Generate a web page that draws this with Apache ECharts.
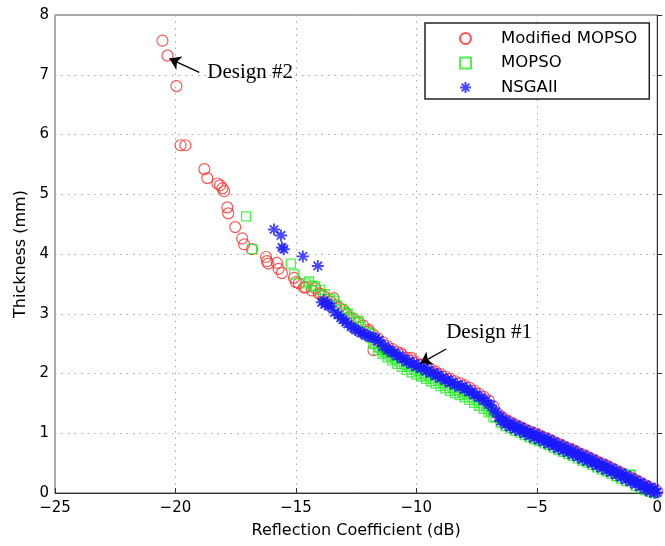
<!DOCTYPE html>
<html>
<head>
<meta charset="utf-8">
<script src="https://cdn.jsdelivr.net/npm/echarts@6/dist/echarts.min.js"></script>
<style>
  html, body { margin: 0; padding: 0; background: #fff; }
  #chart { width: 665px; height: 546px; }
</style>
</head>
<body>
<div id="chart"></div>
<script>
// Pareto fronts: reflection coefficient (dB) vs. absorber thickness (mm)
const seriesNames = ['Modified MOPSO', 'MOPSO', 'NSGAII'];

const modifiedMopso = [
  [-20.54, 7.57], [-20.33, 7.32], [-19.96, 6.81], [-19.79, 5.82], [-19.59, 5.82],
  [-18.80, 5.42], [-18.68, 5.27], [-18.26, 5.18], [-18.15, 5.15], [-18.05, 5.10],
  [-17.98, 5.05], [-17.85, 4.78], [-17.81, 4.68], [-17.52, 4.45], [-17.23, 4.26],
  [-17.15, 4.16], [-16.82, 4.08], [-16.24, 3.95], [-16.20, 3.88], [-16.15, 3.84],
  [-15.79, 3.85], [-15.72, 3.75], [-15.58, 3.68], [-15.08, 3.60], [-15.00, 3.53],
  [-14.88, 3.51], [-14.67, 3.44], [-14.59, 3.44], [-14.34, 3.39], [-14.05, 3.34],
  [-13.97, 3.33], [-13.72, 3.23], [-13.43, 3.26], [-13.35, 3.14], [-13.02, 3.06],
  [-12.81, 2.94], [-12.40, 2.86], [-11.98, 2.73], [-11.78, 2.39], [-11.16, 2.39],
  [-10.66, 2.34], [-10.21, 2.26], [-9.79, 2.14], [-9.21, 2.00], [-8.80, 1.89],
  [-14.2, 3.43], [-13.85, 3.30], [-13.55, 3.20], [-13.2, 3.10], [-12.9, 3.00],
  [-12.6, 2.92], [-12.2, 2.80], [-12.0, 2.70],
  [-11.8, 2.65], [-11.6, 2.59], [-11.4, 2.52], [-11.2, 2.46], [-11.0, 2.41],
  [-10.8, 2.36], [-10.6, 2.31], [-10.4, 2.26], [-10.2, 2.22], [-10.0, 2.18],
  [-9.8, 2.15], [-9.6, 2.11], [-9.4, 2.07], [-9.2, 2.03], [-9.0, 1.99],
  [-8.8, 1.95], [-8.6, 1.91], [-8.4, 1.87], [-8.2, 1.84], [-8.0, 1.80],
  [-7.8, 1.76], [-7.6, 1.71], [-7.4, 1.66], [-7.2, 1.61], [-7.0, 1.55],
  [-6.8, 1.45], [-6.6, 1.32], [-6.4, 1.26], [-6.2, 1.21], [-6.0, 1.17],
  [-5.8, 1.13], [-5.6, 1.09], [-5.4, 1.05], [-5.2, 1.02], [-5.0, 0.99],
  [-4.8, 0.95], [-4.6, 0.92], [-4.4, 0.88], [-4.2, 0.84], [-4.0, 0.81],
  [-3.8, 0.77], [-3.6, 0.74], [-3.4, 0.70], [-3.2, 0.66], [-3.0, 0.63],
  [-2.8, 0.59], [-2.6, 0.55], [-2.4, 0.51], [-2.2, 0.48], [-2.0, 0.44],
  [-1.8, 0.40], [-1.6, 0.36], [-1.4, 0.32], [-1.2, 0.28], [-1.0, 0.24],
  [-0.8, 0.20], [-0.6, 0.15], [-0.4, 0.11], [-0.2, 0.07], [0.0, 0.03]
];

const mopso = [
  [-17.07, 4.63], [-16.82, 4.08], [-15.21, 3.84], [-15.08, 3.66], [-14.59, 3.51],
  [-14.46, 3.54], [-14.34, 3.47], [-14.2, 3.46], [-14.0, 3.40], [-13.8, 3.33],
  [-13.6, 3.25], [-13.43, 3.22], [-13.3, 3.14], [-13.10, 3.08], [-13.0, 3.03],
  [-12.85, 3.00], [-12.7, 2.93], [-12.5, 2.85], [-12.40, 2.88], [-12.3, 2.78],
  [-12.1, 2.70], [-11.90, 2.67], [-11.9, 2.60], [-11.8, 2.50], [-11.57, 2.44],
  [-11.4, 2.40], [-11.28, 2.39], [-11.2, 2.36], [-10.90, 2.30],
  [-11.7, 2.49], [-11.5, 2.43], [-11.3, 2.36], [-11.1, 2.30], [-10.9, 2.25],
  [-10.7, 2.20], [-10.5, 2.15], [-10.3, 2.11], [-10.1, 2.07], [-9.9, 2.04],
  [-9.7, 2.00], [-9.5, 1.96], [-9.3, 1.92], [-9.1, 1.88], [-8.9, 1.84],
  [-8.7, 1.80], [-8.5, 1.76], [-8.3, 1.72], [-8.1, 1.69], [-7.9, 1.65],
  [-7.7, 1.60], [-7.5, 1.55], [-7.3, 1.50], [-7.1, 1.45], [-6.9, 1.37],
  [-6.7, 1.26], [-6.5, 1.18], [-6.3, 1.12], [-6.1, 1.08], [-5.9, 1.04],
  [-5.7, 1.01], [-5.5, 0.97], [-5.3, 0.93], [-5.1, 0.90], [-4.9, 0.87],
  [-4.7, 0.83], [-4.5, 0.80], [-4.3, 0.76], [-4.1, 0.72], [-3.9, 0.69],
  [-3.7, 0.65], [-3.5, 0.62], [-3.3, 0.58], [-3.1, 0.54], [-2.9, 0.51],
  [-2.7, 0.47], [-2.5, 0.43], [-2.3, 0.39], [-2.1, 0.36], [-1.9, 0.32],
  [-1.7, 0.28], [-1.5, 0.24], [-1.3, 0.20], [-1.15, 0.31], [-1.1, 0.30],
  [-0.9, 0.12], [-0.7, 0.08], [-0.5, 0.05], [-0.3, 0.02], [-0.1, 0.00],
  [-11.6, 2.39], [-11.4, 2.33], [-11.2, 2.27], [-11.0, 2.22], [-10.8, 2.16],
  [-10.6, 2.11], [-10.4, 2.06], [-10.2, 2.02], [-10.0, 1.98], [-9.8, 1.95],
  [-9.6, 1.91], [-9.4, 1.87], [-9.2, 1.83], [-9.0, 1.79], [-8.8, 1.75],
  [-8.6, 1.71], [-8.4, 1.67], [-8.2, 1.64], [-8.0, 1.60], [-7.8, 1.56],
  [-7.6, 1.51], [-7.4, 1.46], [-7.2, 1.41], [-7.0, 1.35], [-6.8, 1.27]
];

const nsga2 = [
  [-15.91, 4.41], [-15.62, 4.31], [-15.58, 4.11], [-15.50, 4.08], [-14.71, 3.96],
  [-14.09, 3.80], [-13.93, 3.19], [-13.85, 3.22], [-13.80, 3.16], [-13.70, 3.18],
  [-13.64, 3.13], [-13.55, 3.12], [-13.40, 3.02], [-13.25, 2.98], [-13.14, 2.93],
  [-13.05, 2.90], [-12.93, 2.86], [-12.85, 2.83], [-12.70, 2.78], [-12.60, 2.76],
  [-12.52, 2.73], [-12.40, 2.71], [-12.30, 2.68], [-12.20, 2.67], [-12.11, 2.64],
  [-12.00, 2.63], [-11.90, 2.61], [-11.80, 2.60], [-11.69, 2.59], [-11.60, 2.54],
  [-11.55, 2.56],
  [-11.4, 2.45], [-11.2, 2.39], [-11.0, 2.34], [-10.8, 2.29], [-10.6, 2.24],
  [-10.4, 2.19], [-10.2, 2.15], [-10.0, 2.11], [-9.8, 2.08], [-9.6, 2.04],
  [-9.4, 2.00], [-9.2, 1.96], [-9.0, 1.92], [-8.8, 1.88], [-8.6, 1.84],
  [-8.4, 1.80], [-8.2, 1.77], [-8.0, 1.73], [-7.8, 1.69], [-7.6, 1.64],
  [-7.4, 1.59], [-7.2, 1.54], [-7.0, 1.48], [-6.8, 1.38], [-6.6, 1.27],
  [-6.4, 1.21], [-6.2, 1.16], [-6.0, 1.12], [-5.8, 1.09], [-5.6, 1.05],
  [-5.4, 1.01], [-5.2, 0.98], [-5.0, 0.95], [-4.8, 0.91], [-4.6, 0.88],
  [-4.4, 0.84], [-4.2, 0.80], [-4.0, 0.77], [-3.8, 0.73], [-3.6, 0.70],
  [-3.4, 0.66], [-3.2, 0.62], [-3.0, 0.59], [-2.8, 0.55], [-2.6, 0.51],
  [-2.4, 0.47], [-2.2, 0.44], [-2.0, 0.40], [-1.8, 0.36], [-1.6, 0.32],
  [-1.4, 0.28], [-1.2, 0.24], [-1.0, 0.20], [-0.8, 0.16], [-0.6, 0.12],
  [-0.4, 0.08], [-0.2, 0.05], [0.0, 0.01],
  [-11.3, 2.46], [-11.1, 2.40], [-10.9, 2.35], [-10.7, 2.30], [-10.5, 2.25],
  [-10.3, 2.21], [-10.1, 2.17], [-9.9, 2.14], [-9.7, 2.10], [-9.5, 2.06],
  [-9.3, 2.02], [-9.1, 1.98], [-8.9, 1.94], [-8.7, 1.90], [-8.5, 1.86],
  [-8.3, 1.82], [-8.1, 1.79], [-7.9, 1.75], [-7.7, 1.70], [-7.5, 1.65],
  [-7.3, 1.60], [-7.1, 1.55], [-6.9, 1.47], [-6.7, 1.36], [-6.5, 1.28],
  [-6.3, 1.22], [-6.1, 1.18], [-5.9, 1.14], [-5.7, 1.11], [-5.5, 1.07],
  [-5.3, 1.03], [-5.1, 1.00], [-4.9, 0.97], [-4.7, 0.93], [-4.5, 0.90],
  [-4.3, 0.86], [-4.1, 0.82], [-3.9, 0.79], [-3.7, 0.75], [-3.5, 0.72],
  [-3.3, 0.68], [-3.1, 0.64], [-2.9, 0.61], [-2.7, 0.57], [-2.5, 0.53],
  [-2.3, 0.49], [-2.1, 0.46], [-1.9, 0.42], [-1.7, 0.38], [-1.5, 0.34],
  [-1.3, 0.30], [-1.1, 0.26], [-0.9, 0.22], [-0.7, 0.18], [-0.5, 0.14],
  [-0.3, 0.10], [-0.1, 0.07],
  [-6.5, 1.20], [-6.3, 1.14], [-6.1, 1.10], [-5.9, 1.06], [-5.7, 1.03],
  [-5.5, 0.99], [-5.3, 0.95], [-5.1, 0.92], [-4.9, 0.89], [-4.7, 0.85],
  [-4.5, 0.82], [-4.3, 0.78], [-4.1, 0.74], [-3.9, 0.71], [-3.7, 0.67],
  [-3.5, 0.64], [-3.3, 0.60], [-3.1, 0.56], [-2.9, 0.53], [-2.7, 0.49],
  [-2.5, 0.45], [-2.3, 0.41], [-2.1, 0.38], [-1.9, 0.34], [-1.7, 0.30],
  [-1.5, 0.26], [-1.3, 0.22], [-1.1, 0.18], [-0.9, 0.14], [-0.7, 0.10],
  [-0.5, 0.06], [-0.3, 0.02], [-0.1, 0.00]
];

// Annotated designs: label anchor and arrow (tail -> head)
const designLabels = [
  { name: 'Design #2', at: [-18.68, 7.04] },
  { name: 'Design #1', at: [-8.76, 2.68] }
];
const designArrows = [
  { from: [-19.01, 7.04], to: [-20.25, 7.27] },
  { from: [-8.76, 2.41], to: [-9.83, 2.17] }
];

const xTicks = { min: -25, max: 0, step: 5 };
const yTicks = { min: 0, max: 8, step: 1 };

const SANS = 'DejaVu Sans';
const SERIF = 'Liberation Serif';
const minus = v => String(v).replace('-', '\u2212');
const asterisk = 'path://M5,0L5,10M0,5L10,5M1.5,1.5L8.5,8.5M1.5,8.5L8.5,1.5';
const square = 'path://M0,0L10,0L10,10L0,10Z';

const chart = echarts.init(document.getElementById('chart'), null, { renderer: 'canvas' });

const axisCommon = {
  axisLine: { show: true, lineStyle: { color: '#333', width: 1 } },
  axisTick: { show: true, inside: true, length: 5, lineStyle: { color: '#333' } },
  splitLine: { show: true, lineStyle: { color: '#aaa', type: [1.5, 5], width: 1 } },
  axisLabel: { color: '#000', fontFamily: SANS, fontSize: 15, formatter: minus },
  nameTextStyle: { color: '#000', fontFamily: SANS, fontSize: 16 }
};

chart.setOption({
  animation: false,
  backgroundColor: '#fff',
  grid: {
    left: 55, right: 5, top: 15, bottom: 53,
    show: true, borderColor: '#555', borderWidth: 1, backgroundColor: 'transparent'
  },
  legend: {
    orient: 'vertical',
    left: 425, top: 23,
    padding: [7, 12, 3, 34],
    itemWidth: 11, itemHeight: 11, itemGap: 7.5,
    borderColor: '#222', borderWidth: 1.5,
    backgroundColor: '#fff',
    textStyle: {
      fontFamily: SANS, fontSize: 16.5, color: '#000', lineHeight: 16,
      padding: [0, 0, 0, 25]
    },
    data: seriesNames
  },
  xAxis: Object.assign({}, axisCommon, {
    type: 'value', min: xTicks.min, max: xTicks.max, interval: xTicks.step,
    name: 'Reflection Coefficient (dB)', nameLocation: 'middle', nameGap: 30,
    axisLabel: Object.assign({}, axisCommon.axisLabel, { margin: 8 })
  }),
  yAxis: Object.assign({}, axisCommon, {
    type: 'value', min: yTicks.min, max: yTicks.max, interval: yTicks.step,
    name: 'Thickness (mm)', nameLocation: 'middle', nameGap: 26,
    axisLabel: Object.assign({}, axisCommon.axisLabel, { margin: 6 })
  }),
  series: [
    {
      name: seriesNames[0], type: 'scatter', data: modifiedMopso,
      symbol: 'circle', symbolSize: 11,
      itemStyle: { color: 'rgba(0,0,0,0)', borderColor: '#ff2a2a', borderWidth: 1.2 }
    },
    {
      name: seriesNames[1], type: 'scatter', data: mopso,
      symbol: square, symbolSize: 9,
      itemStyle: { color: 'rgba(0,0,0,0)', borderColor: '#22ee22', borderWidth: 1.3 }
    },
    {
      name: seriesNames[2], type: 'scatter', data: nsga2,
      symbol: asterisk, symbolSize: 12,
      itemStyle: { color: 'rgba(0,0,0,0)', borderColor: '#1a1aff', borderWidth: 1.9 },
      markLine: {
        silent: true, symbol: ['none', 'arrow'], symbolSize: 11,
        lineStyle: { color: '#000', width: 1.3, type: 'solid' },
        label: { show: false },
        data: designArrows.map(a => [{ coord: a.from }, { coord: a.to }])
      },
      markPoint: {
        silent: true, symbol: 'circle', symbolSize: 0,
        label: {
          show: true, position: 'right', distance: 0, formatter: '{b}',
          fontFamily: SERIF, fontSize: 21, color: '#000'
        },
        data: designLabels.map(d => ({ name: d.name, coord: d.at }))
      }
    }
  ]
});
</script>
</body>
</html>
